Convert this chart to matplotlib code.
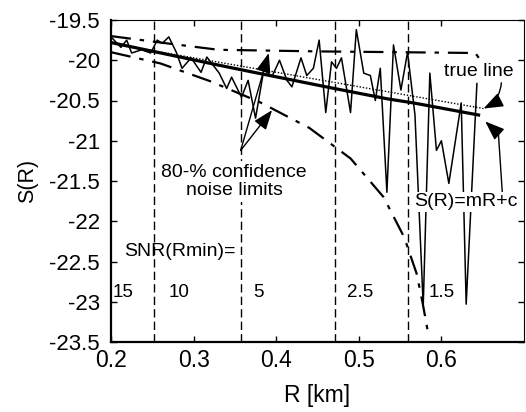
import numpy as np
import matplotlib.pyplot as plt

plt.rcParams['font.family'] = ['Liberation Sans', 'DejaVu Sans']
plt.rcParams['axes.unicode_minus'] = False

# noisy estimate of S(R)
r_noise = [0.201, 0.212, 0.219, 0.225, 0.237, 0.248, 0.256, 0.262, 0.270, 0.279,
           0.286, 0.297, 0.309, 0.316, 0.331, 0.340, 0.346, 0.358, 0.366, 0.375,
           0.385, 0.395, 0.404, 0.413, 0.419, 0.430, 0.437, 0.445, 0.452, 0.460,
           0.467, 0.473, 0.479, 0.490, 0.497, 0.506, 0.514, 0.520, 0.526, 0.534,
           0.542, 0.551, 0.559, 0.568, 0.578, 0.586, 0.594, 0.600, 0.609, 0.624,
           0.630, 0.643]
s_noise = [-19.72, -19.84, -19.75, -19.91, -19.87, -19.91, -19.75, -19.79, -19.71, -19.90,
           -20.10, -19.97, -20.15, -19.96, -20.16, -20.35, -20.21, -20.46, -20.25, -20.72,
           -20.12, -20.20, -20.00, -20.25, -20.33, -19.97, -20.19, -20.10, -19.75, -20.65,
           -20.02, -20.10, -19.97, -20.65, -19.62, -20.16, -20.19, -20.50, -20.10, -21.64,
           -19.81, -20.37, -19.90, -20.68, -23.05, -20.16, -21.12, -21.00, -21.53, -20.53,
           -23.03, -20.29]

# fitted line S(R)=mR+c
r_fit = [0.2, 0.33, 0.373, 0.47, 0.535, 0.566, 0.645]
s_fit = [-19.78, -20.06, -20.15, -20.35, -20.48, -20.53, -20.68]

# true line
r_true = [0.2, 0.651]
s_true = [-19.79, -20.60]

# 80% confidence noise limits
r_up = [0.2, 0.26, 0.33, 0.45, 0.55, 0.641, 0.646]
s_up = [-19.70, -19.78, -19.87, -19.89, -19.90, -19.91, -19.98]
r_low = [0.2, 0.26, 0.32, 0.38, 0.44, 0.49, 0.53, 0.555, 0.57, 0.577, 0.585]
s_low = [-19.90, -20.04, -20.26, -20.52, -20.84, -21.22, -21.70, -22.20, -22.65, -23.00, -23.45]

# SNR(Rmin) boundaries
r_snr = [0.252, 0.357, 0.471, 0.560]
snr_labels = ['15', '10', '5', '2.5', '1.5']
r_snr_text = [0.2145, 0.282, 0.379, 0.501, 0.600]

fig = plt.figure(figsize=(5.26, 4.12), dpi=100)
ax = fig.add_axes([111/526, 1 - 342/412, 413/526, 322/412])

for r in r_snr:
    ax.axvline(r, color='k', lw=1.0, ls=(0, (6, 3)), zorder=1)

ax.plot(r_noise, s_noise, color='k', lw=1.1, zorder=3)
ax.plot(r_fit, s_fit, color='k', lw=2.3, zorder=4)
ax.plot(r_true, s_true, color='k', lw=1.0, ls=(0, (1, 1.3)), zorder=4)
ax.plot(r_up, s_up, color='k', lw=1.6, ls=(0, (9, 4, 2, 4)), zorder=2)
ax.plot(r_low, s_low, color='k', lw=1.6, ls=(0, (9, 4, 2, 4)), zorder=2)

arw = dict(arrowstyle='-|>,head_length=0.8,head_width=0.3', color='k', lw=1,
           shrinkA=0, shrinkB=0, mutation_scale=15)

ax.text(0.349, -21.51, '80-% confidence\nnoise limits', ha='center', va='center',
        fontsize=14, linespacing=1.1, zorder=6,
        bbox=dict(facecolor='white', edgecolor='none', pad=2))
ax.annotate('', xy=(0.391, -19.91), xytext=(0.357, -21.12), arrowprops=arw, zorder=7)
ax.annotate('', xy=(0.395, -20.62), xytext=(0.357, -21.12), arrowprops=arw, zorder=7)

ax.annotate('true line', xy=(0.651, -20.60), xytext=(0.645, -20.14),
            ha='center', va='center', fontsize=14, zorder=6,
            arrowprops=dict(arw, connectionstyle='arc3,rad=-0.3', relpos=(0.83, 0.0)))

ax.annotate('S(R)=mR+c', xy=(0.669, -20.91), xytext=(0.630, -21.76),
            ha='center', va='center', fontsize=14, zorder=6,
            bbox=dict(facecolor='white', edgecolor='none', pad=1),
            arrowprops=dict(arrowstyle='-', color='k', lw=1, shrinkA=0, shrinkB=0,
                            relpos=(0.85, 1.0)))
ax.annotate('', xy=(0.653, -20.76), xytext=(0.669, -20.91), arrowprops=arw, zorder=7)

ax.text(0.216, -22.37, 'SNR(Rmin)=', ha='left', va='center', fontsize=14, zorder=6)
for r, lab in zip(r_snr_text, snr_labels):
    ax.text(r, -22.88, lab, ha='center', va='center', fontsize=13.5, zorder=6)

ax.set_xlim(0.2, 0.7)
ax.set_ylim(-23.5, -19.5)
ax.set_xticks([0.2, 0.3, 0.4, 0.5, 0.6])
ax.set_xticklabels(['0.2', '0.3', '0.4', '0.5', '0.6'])
yt = np.arange(-23.5, -19.49, 0.5)
ax.set_yticks(yt)
ax.set_yticklabels(['%g' % v for v in yt])
ax.tick_params(direction='in', top=True, right=True, length=4, width=1)
ax.tick_params(axis='x', labelsize=16.5, pad=5)
ax.tick_params(axis='y', labelsize=16, pad=8)
ax.set_xlabel('R [km]', fontsize=16.5, labelpad=9)
ax.set_ylabel('S(R)', fontsize=15.5, labelpad=8)
for s in ['top', 'right']:
    ax.spines[s].set_linewidth(0.8)
for s in ['left', 'bottom']:
    ax.spines[s].set_linewidth(1.6)

fig.savefig('out.png', dpi=100)
